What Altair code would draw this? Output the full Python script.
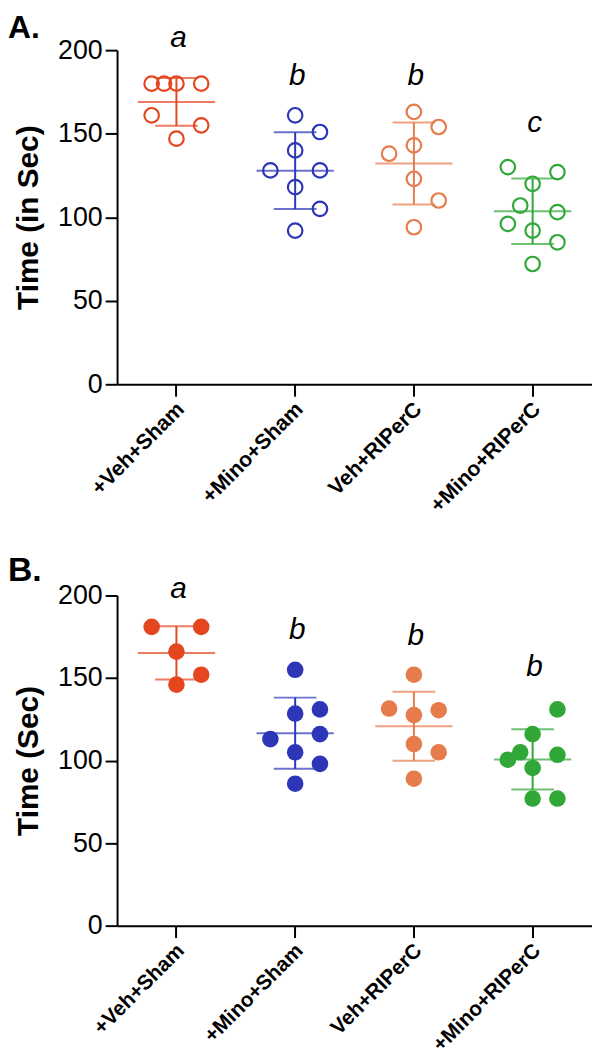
import altair as alt
import pandas as pd

groups = ["+Veh+Sham", "+Mino+Sham", "Veh+RIPerC", "+Mino+RIPerC"]

# ---- Panel A values (open circles) ----
a_vals = [
    [180, 180, 180, 180, 161, 155, 147],
    [161, 151, 140, 128, 128, 118, 105, 92],
    [163, 154, 143, 138, 123, 110, 94],
    [130, 127, 120, 107, 103, 96, 92, 85, 72],
]
# column-scatter slot of each point (-2 .. 2)
a_slots = [
    [-2, -1, 0, 2, -2, 2, 0],
    [0, 2, 0, -2, 2, 0, 2, 0],
    [0, 2, 0, -2, 0, 2, 0],
    [-2, 2, 0, -1, 2, -2, 0, 2, 0],
]
a_letters = ["a", "b", "b", "c"]
a_letter_y = [202, 179, 179, 151]
a_colors = ["#E4461F", "#2C36B6", "#E67C4C", "#31A738"]

# ---- Panel B values (filled circles) ----
b_vals = [
    [181, 181, 166, 152, 146],
    [155, 131, 128.5, 116, 113, 105, 98, 86],
    [152, 131.5, 130.5, 127.5, 110, 105, 89],
    [131, 116, 105, 100.5, 103.5, 95.5, 77, 77],
]
b_slots = [
    [-2, 2, 0, 2, 0],
    [0, 2, 0, 2, -2, 0, 2, 0],
    [0, -2, 2, 0, 0, 2, 0],
    [2, 0, -1, -2, 2, 0, 0, 2],
]
b_letters = ["a", "b", "b", "b"]
b_letter_y = [198.5, 173.5, 170, 151.5]
b_colors = ["#F42A0C", "#2230B2", "#EE6D47", "#22901F"]

FONT = "Liberation Sans"
W = 479
BAND = W / 4


def points_df(vals, slots):
    rows = []
    for g, vs, ss in zip(groups, vals, slots):
        for v, s in zip(vs, ss):
            rows.append({"group": g, "value": v, "slot": s})
    return pd.DataFrame(rows)


def panel(vals, slots, letters, letter_y, colors, title, panel_label,
          height, filled, label_y, label_size, label_fs):
    df = points_df(vals, slots)
    letters_df = pd.DataFrame({"group": groups, "letter": letters, "ly": letter_y})
    xscale = alt.Scale(domain=groups, paddingInner=0, paddingOuter=0)
    xaxis = alt.Axis(title=None, labelAngle=-45, labelAlign="right",
                     labelBaseline="top", labelFontWeight="bold",
                     labelFontSize=label_fs, labelPadding=2, labelOffset=-3,
                     tickSize=12)
    yscale = alt.Scale(domain=[0, 200], nice=False)
    yaxis = alt.Axis(title=title, values=[0, 50, 100, 150, 200],
                     labelFontSize=27, tickSize=12, labelPadding=3,
                     titleFontSize=30, titleFontWeight="bold", titlePadding=14)
    cscale = alt.Scale(domain=groups, range=colors)

    def X():
        return alt.X("group:N", sort=groups, scale=xscale, axis=xaxis)

    def Y(field):
        return alt.Y(field, type="quantitative", scale=yscale, axis=yaxis)

    base = alt.Chart(df)
    if filled:
        pts = base.mark_point(shape="circle", filled=True, size=280, opacity=1)
    else:
        pts = base.mark_point(shape="circle", filled=False, size=215,
                              strokeWidth=2.2, opacity=1)
    pts = pts.encode(
        x=X(),
        xOffset=alt.XOffset("slot:Q", scale=alt.Scale(
            domain=[-2, 2], range=[BAND / 2 - 25, BAND / 2 + 25])),
        y=Y("value"),
        color=alt.Color("group:N", scale=cscale, legend=None),
    )

    stats = base.transform_aggregate(
        mean="mean(value)", sd="stdev(value)", groupby=["group"]
    ).transform_calculate(
        lo="datum.mean - datum.sd", hi="datum.mean + datum.sd"
    )
    col = alt.Color("group:N", scale=cscale, legend=None)
    mean_tick = stats.mark_tick(size=78, thickness=2).encode(x=X(), y=Y("mean"), color=col)
    lo_tick = stats.mark_tick(size=43, thickness=2).encode(x=X(), y=Y("lo"), color=col)
    hi_tick = stats.mark_tick(size=43, thickness=2).encode(x=X(), y=Y("hi"), color=col)
    vrule = stats.mark_rule(strokeWidth=2).encode(x=X(), y=Y("lo"), y2="hi:Q", color=col)

    letters_layer = alt.Chart(letters_df).mark_text(
        fontSize=30, fontStyle="italic", font=FONT, baseline="alphabetic",
        align="center", color="black", dx=2
    ).encode(x=X(), y=Y("ly"), text="letter:N")

    plabel = alt.Chart(pd.DataFrame({"t": [panel_label]})).mark_text(
        fontSize=label_size, fontWeight="bold", font=FONT, align="left",
        baseline="alphabetic", color="black"
    ).encode(text="t:N", x=alt.value(-110), y=alt.value(label_y))

    return alt.layer(
        vrule, lo_tick, hi_tick, mean_tick, pts, letters_layer, plabel
    ).properties(width=W, height=height)


chart_a = panel(a_vals, a_slots, a_letters, a_letter_y, a_colors,
                "Time (in Sec)", "A.", 337, False, -12, 32, 21.5)
chart_b = panel(b_vals, b_slots, b_letters, b_letter_y, b_colors,
                "Time (Sec)", "B.", 333, True, -15, 34, 21)

chart = alt.vconcat(
    chart_a, chart_b, spacing=213, bounds="flush", padding=0,
).configure_view(
    stroke=None
).configure_axis(
    grid=False, domainColor="black", domainWidth=2, tickColor="black",
    tickWidth=2, labelColor="black", titleColor="black",
    labelFont=FONT, titleFont=FONT
)

chart.save("out.html", embed_options={"renderer": "svg", "actions": False})
